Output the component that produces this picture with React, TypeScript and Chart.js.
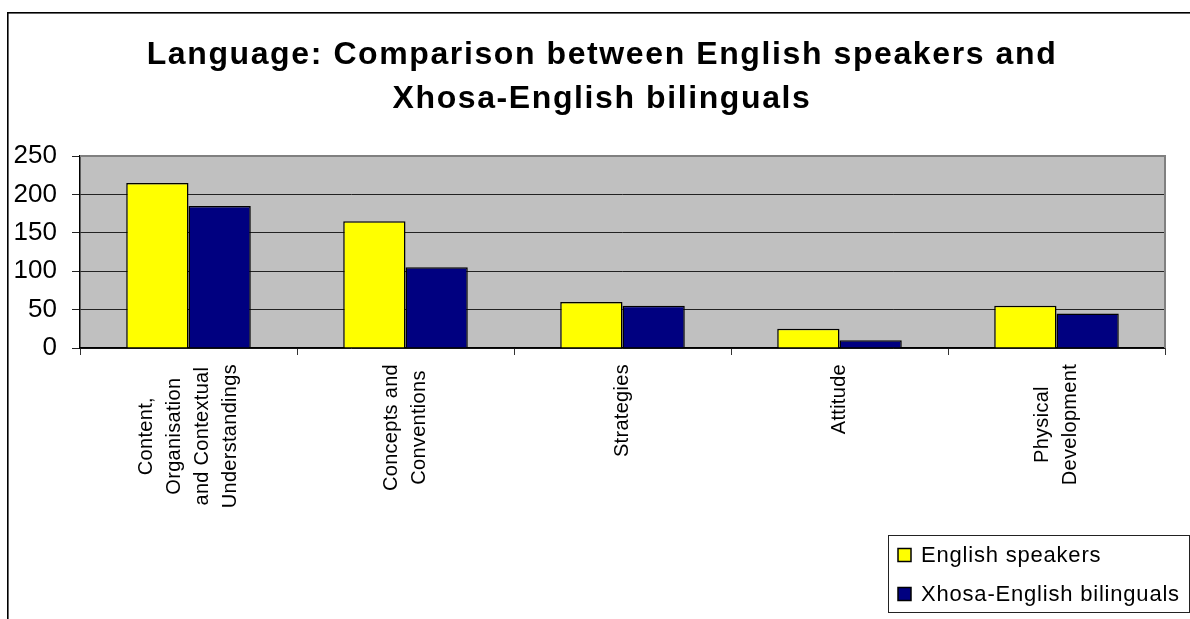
import React, { useEffect, useRef } from "react";
import { Chart, registerables } from "chart.js";

Chart.register(...registerables);

const titleLines = ["Language: Comparison between English speakers and", "Xhosa-English bilinguals"];
const categories = [
  ["Content,", "Organisation", "and Contextual", "Understandings"],
  ["Concepts and", "Conventions"],
  ["Strategies"],
  ["Attitude"],
  ["Physical", "Development"],
];
const seriesNames = ["English speakers", "Xhosa-English bilinguals"];
const englishSpeakers = [215, 165, 60, 25, 55];
const xhosaBilinguals = [185, 105, 55, 10, 45];
const yTicks = [0, 50, 100, 150, 200, 250];
const seriesColors = ["#FFFF00", "#000080"];

const FONT = '"Liberation Sans", Arial, sans-serif';

const decorPlugin = {
  id: "decor",
  beforeDraw(chart: any) {
    const { ctx, chartArea } = chart;
    ctx.save();
    ctx.fillStyle = "#C0C0C0";
    ctx.fillRect(chartArea.left, chartArea.top, chartArea.right - chartArea.left, chartArea.bottom - chartArea.top);
    // outer frame
    ctx.fillStyle = "#000";
    ctx.fillRect(7, 12, 1.6, 1000);
    ctx.fillRect(7, 12, 1300, 1.6);
    ctx.restore();
  },
  afterDraw(chart: any) {
    const { ctx, chartArea } = chart;
    ctx.save();
    // plot area top / right border
    ctx.strokeStyle = "#808080";
    ctx.lineWidth = 2;
    ctx.beginPath();
    ctx.moveTo(chartArea.left, chartArea.top);
    ctx.lineTo(chartArea.right, chartArea.top);
    ctx.lineTo(chartArea.right, chartArea.bottom);
    ctx.stroke();

    // title
    ctx.fillStyle = "#000";
    ctx.font = "bold 32px " + FONT;
    ctx.textAlign = "center";
    ctx.textBaseline = "middle";
    (ctx as any).letterSpacing = "1.6px";
    titleLines.forEach((t, i) => ctx.fillText(t, 602, 55 + i * 44));
    (ctx as any).letterSpacing = "0px";

    // category labels, rotated, lines centred within block
    const xs = chart.scales.x;
    const top = chartArea.bottom + 16;
    ctx.font = "20px " + FONT;
    (ctx as any).letterSpacing = "0.3px";
    categories.forEach((lines, i) => {
      const cx = xs.getPixelForValue(i);
      const maxW = Math.max(...lines.map((l) => ctx.measureText(l).width));
      ctx.save();
      ctx.translate(cx, top + maxW / 2);
      ctx.rotate(-Math.PI / 2);
      ctx.textAlign = "center";
      ctx.textBaseline = "middle";
      lines.forEach((l, j) => ctx.fillText(l, 0, (j - (lines.length - 1) / 2) * 28));
      ctx.restore();
    });

    // legend
    const lx = 888, ly = 535, lw = 301, lh = 77;
    (ctx as any).letterSpacing = "0.8px";
    ctx.strokeStyle = "#222";
    ctx.lineWidth = 1;
    ctx.strokeRect(lx + 0.5, ly + 0.5, lw, lh);
    ctx.font = "22px " + FONT;
    ctx.textAlign = "left";
    ctx.textBaseline = "middle";
    chart.data.datasets.forEach((ds: any, i: number) => {
      const cy = ly + 20 + i * 39;
      ctx.fillStyle = ds.backgroundColor;
      ctx.fillRect(lx + 10, cy - 6.5, 13, 13);
      ctx.strokeStyle = "#000";
      ctx.lineWidth = 1.5;
      ctx.strokeRect(lx + 10, cy - 6.5, 13, 13);
      ctx.fillStyle = "#000";
      ctx.fillText(ds.label, lx + 33, cy + 1);
    });
    (ctx as any).letterSpacing = "0px";
    ctx.restore();
  },
};

export default function App() {
  const ref = useRef<HTMLCanvasElement | null>(null);
  useEffect(() => {
    if (!ref.current) return;
    const chart = new Chart(ref.current, {
      type: "bar",
      data: {
        labels: categories.map((c) => c.join(" ")),
        datasets: [
          {
            label: seriesNames[0],
            data: englishSpeakers,
            backgroundColor: seriesColors[0],
            borderColor: "#000",
            borderWidth: 1.5,
            categoryPercentage: 0.574,
            barPercentage: 1,
          },
          {
            label: seriesNames[1],
            data: xhosaBilinguals,
            backgroundColor: seriesColors[1],
            borderColor: "#000",
            borderWidth: 1.5,
            categoryPercentage: 0.574,
            barPercentage: 1,
          },
        ],
      },
      options: {
        responsive: false,
        animation: false,
        layout: { padding: { left: 10, right: 25, top: 156, bottom: 0 } },
        plugins: {
          legend: { display: false },
          tooltip: { enabled: false },
          title: { display: false },
        },
        scales: {
          x: {
            type: "category",
            offset: true,
            ticks: { display: false },
            grid: { offset: true, drawOnChartArea: false, drawTicks: true, tickLength: 7, color: "#333" },
            border: { display: true, color: "#000", width: 1.5 },
            afterFit: (s: any) => {
              s.height = 271;
            },
          },
          y: {
            min: 0,
            max: 250,
            afterBuildTicks: (s: any) => {
              s.ticks = yTicks.map((v) => ({ value: v }));
            },
            ticks: { color: "#000", font: { family: FONT, size: 26 }, padding: 15 },
            grid: { color: "#222", tickLength: 8, drawTicks: true },
            border: { display: true, color: "#000", width: 1.5 },
            afterFit: (s: any) => {
              s.width = 70;
            },
          },
        },
      },
      plugins: [decorPlugin],
    });
    return () => chart.destroy();
  }, []);
  return (
    <div style={{ position: "absolute", left: 0, top: 0, width: 1190, height: 619, background: "#fff" }}>
      <canvas ref={ref} width={1190} height={619} style={{ display: "block" }} />
    </div>
  );
}
